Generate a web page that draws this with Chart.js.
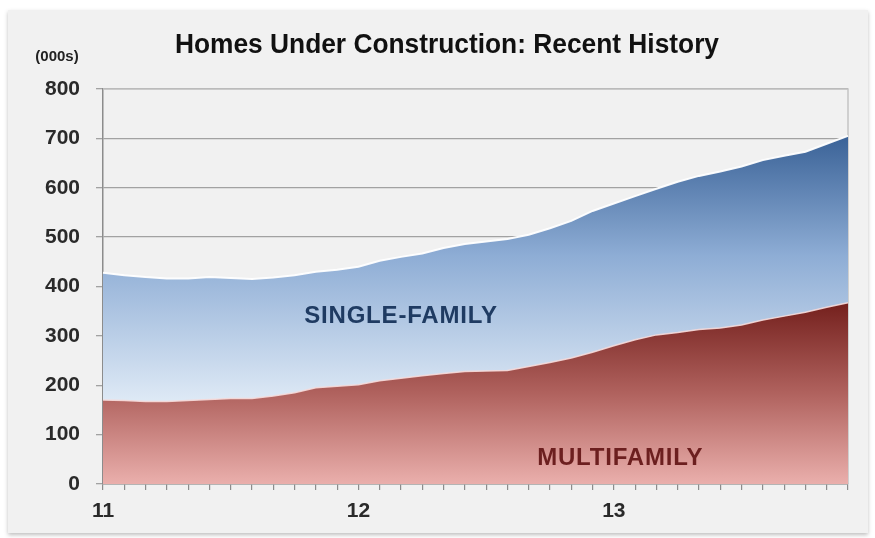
<!DOCTYPE html>
<html>
<head>
<meta charset="utf-8">
<script src="https://cdn.jsdelivr.net/npm/chart.js@4.4.1/dist/chart.umd.min.js"></script>
<style>
  body { margin: 0; background: #fff; }
  canvas { display: block; }
</style>
</head>
<body>
<canvas id="homesChart" width="875" height="538"></canvas>
<script>
// monthly, Jan 2011 - Dec 2013
const months = [
  'Jan 11', 'Feb 11', 'Mar 11', 'Apr 11', 'May 11', 'Jun 11', 'Jul 11', 'Aug 11', 'Sep 11', 'Oct 11', 'Nov 11', 'Dec 11',
  'Jan 12', 'Feb 12', 'Mar 12', 'Apr 12', 'May 12', 'Jun 12', 'Jul 12', 'Aug 12', 'Sep 12', 'Oct 12', 'Nov 12', 'Dec 12',
  'Jan 13', 'Feb 13', 'Mar 13', 'Apr 13', 'May 13', 'Jun 13', 'Jul 13', 'Aug 13', 'Sep 13', 'Oct 13', 'Nov 13', 'Dec 13'
];
const yearLabels = ['11', '12', '13'];

// thousands of units
const multifamily = [
  170, 169, 167, 167, 169, 171, 173, 173, 178, 185, 195, 198,
  201, 209, 214, 219, 224, 228, 229, 230, 238, 246, 255, 267,
  280, 292, 302, 307, 313, 316, 322, 332, 340, 348, 358, 367
];
const singleFamily = [
  258, 254, 252, 249, 247, 248, 244, 242, 240, 238, 235, 236,
  239, 243, 246, 248, 254, 258, 262, 266, 267, 272, 278, 286,
  288, 291, 296, 305, 311, 317, 321, 324, 325, 325, 331, 338
];

const fontFamily = "'Liberation Sans', Arial, sans-serif";
const axisFont = { family: fontFamily, size: 21, weight: 'bold' };

const blueFill = (ctx) => {
  const chart = ctx.chart;
  const { chartArea, scales } = chart;
  if (!chartArea) return '#8eaed6';
  const g = chart.ctx.createLinearGradient(0, scales.y.getPixelForValue(705), 0, scales.y.getPixelForValue(165));
  g.addColorStop(0, '#3a6297');
  g.addColorStop(0.45, '#8eadd5');
  g.addColorStop(1, '#dfeaf6');
  return g;
};

const redFill = (ctx) => {
  const chart = ctx.chart;
  const { chartArea, scales } = chart;
  if (!chartArea) return '#b0625e';
  const g = chart.ctx.createLinearGradient(0, scales.y.getPixelForValue(367), 0, chartArea.bottom);
  g.addColorStop(0, '#74201d');
  g.addColorStop(0.5, '#b0625e');
  g.addColorStop(1, '#eaafac');
  return g;
};

// panel background, plot frame, title and the text labels on the chart
const decorations = {
  id: 'decorations',
  beforeDraw(chart) {
    const c = chart.ctx;
    c.save();
    c.fillStyle = '#ffffff';
    c.fillRect(0, 0, chart.width, chart.height);
    c.shadowColor = 'rgba(0,0,0,0.25)';
    c.shadowBlur = 4;
    c.shadowOffsetY = 2;
    c.fillStyle = '#f1f1f1';
    c.fillRect(8, 10, 860, 523);
    c.restore();
  },
  beforeDatasetsDraw(chart) {
    const c = chart.ctx;
    const a = chart.chartArea;
    c.save();
    c.strokeStyle = '#c4c4c4';
    c.lineWidth = 1.5;
    c.beginPath();
    c.moveTo(a.left, a.top);
    c.lineTo(a.right, a.top);
    c.lineTo(a.right, a.bottom);
    c.stroke();
    c.restore();
  },
  afterDraw(chart) {
    const c = chart.ctx;
    const x = chart.scales.x;
    const y = chart.scales.y;
    c.save();
    c.textAlign = 'center';
    c.textBaseline = 'middle';

    // title, slightly condensed like the original
    c.save();
    c.translate(447, 45);
    c.scale(0.94, 1);
    c.fillStyle = '#111';
    c.font = 'bold 28px ' + fontFamily;
    c.fillText('Homes Under Construction: Recent History', 0, 0);
    c.restore();

    c.fillStyle = '#222';
    c.font = 'bold 15px ' + fontFamily;
    c.fillText('(000s)', 57, 57);

    c.font = 'bold 24px ' + fontFamily;
    c.letterSpacing = '0.8px';
    c.fillStyle = '#1f3b62';
    c.fillText('SINGLE-FAMILY', x.getPixelForValue(14), y.getPixelForValue(340));
    c.fillStyle = '#6c1f1f';
    c.fillText('MULTIFAMILY', x.getPixelForValue(24.3), y.getPixelForValue(51));
    c.restore();
  }
};

new Chart(document.getElementById('homesChart'), {
  type: 'line',
  data: {
    labels: months,
    datasets: [
      {
        label: 'Multifamily',
        data: multifamily,
        fill: 'origin',
        backgroundColor: redFill,
        borderColor: 'rgba(246,220,220,0.9)',
        borderWidth: 1.5,
        pointRadius: 0,
        tension: 0
      },
      {
        label: 'Single-family',
        data: singleFamily,
        fill: '-1',
        backgroundColor: blueFill,
        borderColor: 'rgba(255,255,255,0.95)',
        borderWidth: 2,
        pointRadius: 0,
        tension: 0
      }
    ]
  },
  options: {
    responsive: false,
    animation: false,
    layout: { padding: { left: 0, right: 27, top: 89, bottom: 0 } },
    plugins: {
      legend: { display: false },
      tooltip: { enabled: false },
      title: { display: false }
    },
    scales: {
      x: {
        type: 'category',
        offset: false,
        afterFit: (s) => { s.height = 54; },
        grid: { drawOnChartArea: false, drawTicks: true, tickLength: 6, color: '#8c8c8c', lineWidth: 1.2 },
        border: { color: '#8c8c8c', width: 1.5 },
        ticks: {
          autoSkip: false,
          maxRotation: 0,
          padding: 9,
          color: '#2a2a2a',
          font: axisFont,
          callback: (v, i) => (i % 12 === 0 ? yearLabels[i / 12] : '')
        }
      },
      y: {
        stacked: true,
        min: 0,
        max: 800,
        afterFit: (s) => { s.width = 103; },
        grid: { color: '#a2a2a2', lineWidth: 1.3, tickLength: 7 },
        border: { color: '#8c8c8c', width: 1.5 },
        ticks: { stepSize: 100, padding: 16, color: '#2a2a2a', font: axisFont }
      }
    }
  },
  plugins: [decorations]
});
</script>
</body>
</html>
